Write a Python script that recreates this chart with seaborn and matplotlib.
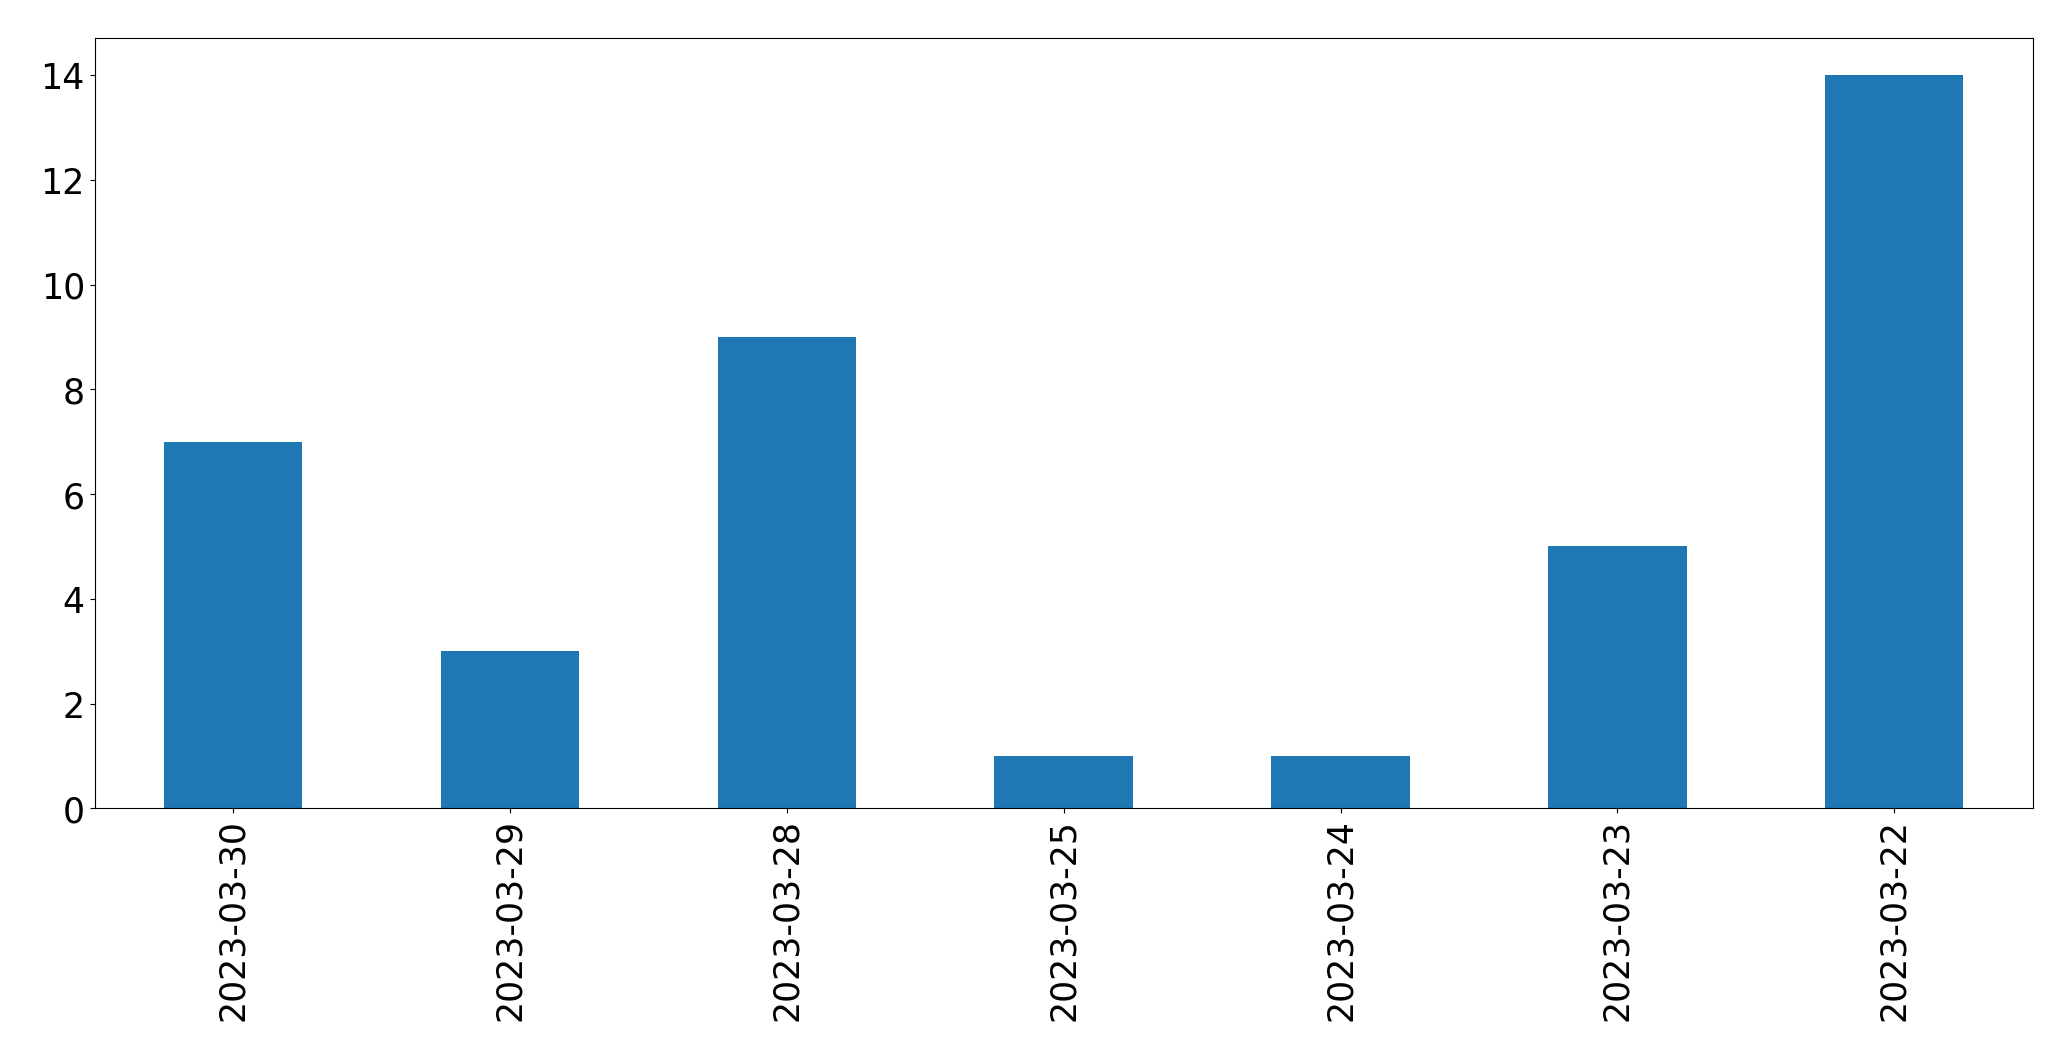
import matplotlib
matplotlib.use("Agg")
import matplotlib.pyplot as plt
import pandas as pd
import seaborn as sns

DATES = ["2023-03-30", "2023-03-29", "2023-03-28", "2023-03-25",
         "2023-03-24", "2023-03-23", "2023-03-22"]
COUNTS = [7, 3, 9, 1, 1, 5, 14]

df = pd.DataFrame({"date": DATES, "count": COUNTS})

fig, ax = plt.subplots(figsize=(20.71, 10.609), dpi=100)
fig.subplots_adjust(left=0.0457, right=0.9815, top=0.963, bottom=0.2372)

sns.barplot(data=df, x="date", y="count", order=DATES, color="#1f77b4",
            saturation=1, width=0.5, linewidth=0, ax=ax)

ax.set_xlim(-0.5, len(DATES) - 0.5)
ax.set_ylim(0, max(COUNTS) * 1.05)
ax.set_yticks(range(0, 15, 2))
ax.set_xlabel("")
ax.set_ylabel("")
for side in ax.spines.values():
    side.set_edgecolor("black")
ax.tick_params(axis="both", labelsize=25)
ax.tick_params(axis="x", labelrotation=90)

fig.savefig("out.png", dpi=100)
